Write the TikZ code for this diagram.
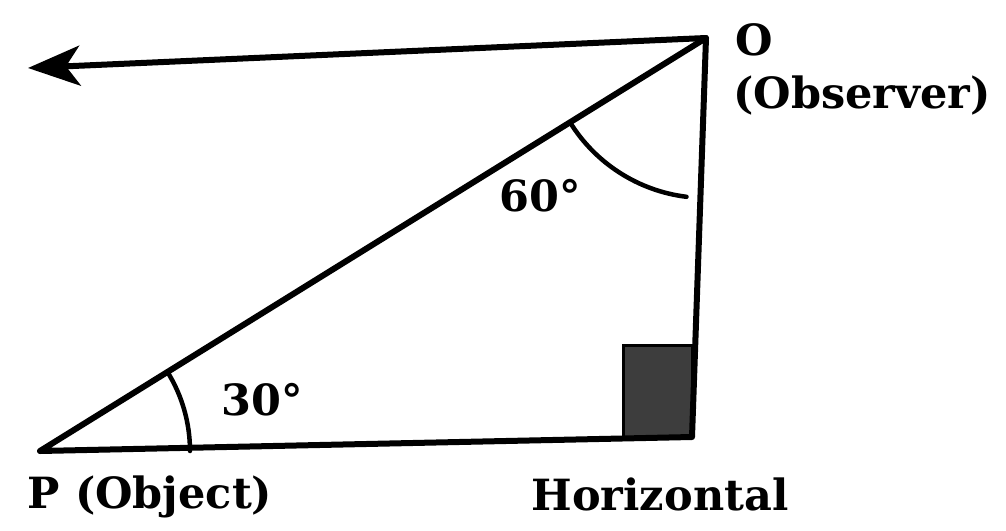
\documentclass[tikz,border=0pt]{standalone}
\usepackage{fontspec}
\setmainfont{DejaVu Serif}
\usetikzlibrary{arrows.meta,calc}
\begin{document}
\begin{tikzpicture}[x=1pt,y=-1pt,
  edge/.style={line width=6pt,line cap=round,line join=round},
  anglearc/.style={line width=4.5pt,line cap=round},
  lbl/.style={font=\fontsize{43}{47}\selectfont\bfseries,inner sep=0pt}]
\useasboundingbox (0,0) rectangle (1006,530);
\coordinate (O) at (706,38);
\coordinate (P) at (40,451);
\coordinate (C) at (692,437);
\coordinate (A) at (28,68);
% right-angle mark
\filldraw[fill=black!76,draw=black,line width=3pt] (623,345) rectangle (692,437);
% sides
\draw[edge] (P) -- (C) -- (O) -- cycle;
\draw[edge,-{Stealth[length=52pt,width=40pt,inset=14pt]}] (O) -- (A);
% angle arcs
\draw[anglearc] ($(P)+(150,0)$) arc[start angle=0,end angle=-31.8,radius=150];
\draw[anglearc] (O) ++(148.2:160) arc[start angle=148.2,end angle=97,radius=160];
% labels
\node[lbl] (lO) at (754,40) {O};
\node[lbl] (lObs) at (862,96) {(Observer)};
\node[lbl] (l60) at (540,196) {60°};
\node[lbl] (l30) at (262,400) {30°};
\node[lbl] (lP) at (150,497) {P (Object)};
\node[lbl] (lH) at (660,494) {Horizontal};
\end{tikzpicture}
\end{document}
